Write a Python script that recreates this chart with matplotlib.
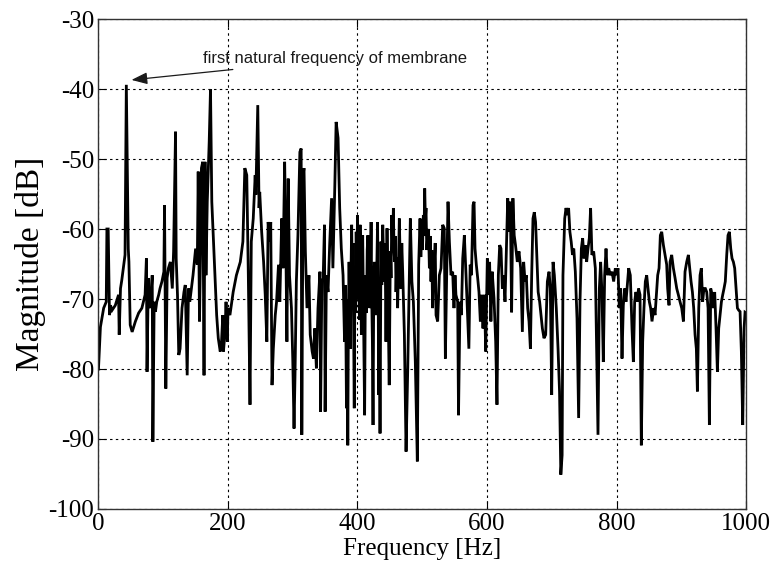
import matplotlib
matplotlib.use("Agg")
import matplotlib.pyplot as plt

# Frequency axis [Hz] and magnitude spectrum [dB]
freq_hz = [
    0, 3, 8, 12, 13, 15, 17, 18.5, 21, 26, 31, 32, 34, 36, 39, 41, 43, 46, 47, 49,
    52, 57, 62, 67, 72, 74, 75, 77, 78, 80, 83, 84, 86, 88, 90, 93, 95, 98, 101, 102,
    104, 106, 108, 111, 114, 116, 119, 120, 122, 124, 126, 129, 132, 134, 137, 139,
    141, 146, 150, 152.6, 154, 156, 158, 159, 161, 163, 164.5, 166, 168, 171, 173, 175,
    177, 180, 182.5, 185, 188, 190, 192, 193, 195.4, 197, 199, 200, 203, 208, 213, 219,
    223, 226, 229, 231.4, 234, 236, 239, 242, 243, 246, 248, 249, 252, 255, 257.5, 260,
    262, 265, 266, 268, 270, 273, 275, 278, 280, 283,
    285, 287.5, 289, 291, 293, 295, 298, 300, 302, 303.5, 305.6, 308, 311, 313, 314,
    316, 317.4, 319.5, 322, 325, 327, 330, 332, 334, 336.5, 339, 342, 343, 345, 347,
    349, 350, 352, 354.5, 357, 360, 362, 365, 367, 370, 372.5, 375, 377.7,
    380, 381, 382, 383, 384, 385, 386, 387, 388, 389, 390, 391, 392, 393, 394, 395,
    396, 397, 398, 399, 400, 401, 402, 403, 404, 405, 406, 407, 408, 409, 410, 411,
    412, 413, 414, 415, 416, 417, 418, 419, 420, 421, 422, 423, 424, 425, 426, 427,
    428.6, 430, 431, 432, 432.7, 433.8, 434.8, 436.3, 437.5, 439, 440.2, 441.5, 442.6,
    444, 445.6, 446.6, 447.6, 449, 450.7, 451.8, 453, 454.2, 455.4, 456.4, 457.4, 458.4,
    459.5, 460.7, 462, 463.3, 464.6, 465.8, 467, 468.4, 469.8,
    472.4, 475, 477.5, 480, 481.6, 484, 486.3, 489.3, 492.4, 494.5, 496.6, 497.8, 499,
    500.3, 501.7, 502.7, 503.8, 504.8, 505.8, 507, 508.4, 509.7, 511, 512.3, 513.5,
    514.7, 516, 517.3, 518.7, 520, 521.3, 523.8, 526.4, 529, 531.6, 534, 535.7, 537.7,
    539.8, 541.9, 544.4, 547, 549, 550.6, 552, 554.7, 556, 558.3, 560.4, 562.5, 565,
    567.6,
    572, 574, 576, 578.4, 580, 581.5, 583.5, 585.6, 587.6, 589.7, 591.8, 593.8, 596, 598,
    600.5, 602, 604, 606, 608, 610.8, 613.4, 615.4, 617.5, 619.6, 621.6, 623.7, 625.7,
    627.8, 629.9, 632, 634, 636, 638, 640, 642, 644, 646.8, 649.4, 652, 654.6, 656.6,
    658.7, 660.7, 662.8, 664.9, 667, 669, 671, 673, 675, 677, 679, 681.3, 683.4, 685.5,
    688, 690.6, 693.2, 695.8, 697.8, 699.9, 702, 704, 707, 709.7, 712, 714,
    716, 717.3, 720, 722, 724, 726, 728, 730, 732, 734, 736.4, 739, 741.5, 743.6, 745.7,
    747.7, 749.8, 751.8, 753.9, 756, 758, 760, 762, 764.7, 767.3, 769.3, 771.4, 773.5,
    775.5, 777.6, 779.6, 781.7, 783.8, 785.8, 787.9, 790.5, 793, 795.6, 798.2, 800.2,
    802.3, 804.3, 806.4, 808.5, 810.5, 812.6, 814.6, 816.7, 818.8, 821.3, 823.9, 826,
    828, 830, 832, 834, 836.3, 838.3, 840.4, 842.4, 844.5, 846.6, 848.6, 850.7, 852.7,
    854.8, 857.4,
    859.5, 861.6, 863.6, 865.7, 867.7, 869.8, 872.4, 875, 877.5, 879, 881.1, 882.7,
    885.2, 887.8, 890.4, 893, 895.5, 898.1, 900.7, 903.3, 905.8, 908.4, 911, 913, 915.1,
    917.2, 919.2, 921.3, 923.3, 924.9, 927, 929, 931, 933, 935, 937.2, 939.3, 941.4,
    943.4, 945.5, 947.5, 949.6, 951.6, 953.7, 955.8, 957.8, 959.9, 962, 964, 966, 968,
    970.2, 972.2, 974.3, 976.4, 978.4, 980.5, 982.5, 984.6, 986.7, 988.7, 990.8, 992.8,
    994.9, 997, 998.5, 1000,
]

magnitude_db = [
    -80, -74, -71.3, -70.4, -60, -60, -72.3, -70.9, -71.6, -70.9, -69.4, -75.1, -68.5,
    -67.3, -65.1, -63.7, -39.4, -62.8, -64.7, -73.7, -74.7, -73.2, -72, -71.3, -69.4,
    -64.2, -80.4, -67, -70.4, -71.3, -66.6, -90.4, -70.4, -71.8, -70.4, -69.4, -68.5,
    -67.5, -66.1, -56.6, -82.8, -67, -65.6, -64.7, -68.5, -63.2, -46.1, -64.2, -69.4,
    -78, -77.1, -71.3, -69, -68, -80.9, -68.5,
    -70.4, -66.6, -62.8, -65.1, -51.8, -73.2, -60.9, -51.3, -50.4, -80.9, -50.4, -66.6,
    -56.1, -47.5, -40, -56.1, -60.4, -66.6, -72.3, -75.6, -77.5, -76.1, -72.3, -77.5,
    -74.7, -70.4, -76.1, -71.3, -72.3, -69, -66.6, -64.7, -61.8, -51.3, -52.3, -66.6,
    -85.1, -61.8, -58.5, -52.3, -55.1, -42.3, -57, -54.7, -60.4, -64.7, -69.4, -76.1,
    -59, -61.8, -59, -82.3, -77.1, -72.3, -70.4, -65.1, -70.4, -58.5,
    -65.6, -50.4, -59.5, -76.1, -52.8, -66.6, -71.3, -78.5, -88.5, -80.9, -67.5, -60.9,
    -49, -48.5, -89.4, -52.3, -51.3, -63.2, -71.3, -66.6, -75.1, -77.5, -78.5, -74.2,
    -79.9, -71.3, -66.1, -86.1, -67.5, -67, -59.4, -86.1, -66.6, -69, -62.3, -55.6,
    -65.6, -53.7, -44.7, -47, -57, -62.8, -66.6,
    -76.1, -68, -74, -85.6, -70, -90.9, -72, -64.7, -70.5, -77.1, -66, -59.4, -68, -62,
    -73.7, -85.6, -66, -72, -60.4, -67, -58, -70, -66.6, -73, -59.4, -68, -75.1, -65,
    -60.9, -70, -78, -86.6, -70, -66.6, -72, -63, -60.9, -68, -64, -71.3, -66, -59, -70,
    -76, -88, -70, -64.7, -69,
    -72.3, -64, -59, -70, -83.7, -72, -89.2, -61.8, -68, -59.4, -64, -67.5, -62, -76.1,
    -59.9, -66, -72.8, -82.3, -63.2, -67, -58, -63, -57, -63, -64.7, -61, -69, -64,
    -71.3, -65, -58.5, -64, -68.5, -62, -66.1,
    -75.1, -91.8, -80.4, -67.5, -58.5, -67.5, -70.4, -79, -93.2, -65.1, -58.5, -64,
    -60.4, -63, -58, -61, -54.2, -58.5, -57, -63, -60.9, -60, -65.6, -61, -67.5, -63,
    -71.3, -66, -64.7, -62, -72.3, -73.2, -66.6, -65.6, -59.4, -59.9, -78.5, -66.6,
    -56.1, -61.8, -66.6, -66.1, -71.3, -66.6, -69.4, -70.4, -86.6, -70.4, -72.3, -64.2,
    -60.9, -66.6,
    -77.1, -65.1, -66.6, -56.6, -56.1, -62.8, -65.1, -67, -69, -73.2, -69.4, -74.2,
    -69.4, -77.5, -64.2, -69.4, -64.7, -73.2, -66.1, -69.9, -76.1, -85.1, -66.6, -62.3,
    -62.8, -68.5, -66.6, -70.4, -63.2, -55.6, -60.4, -56.1, -71.9, -55.6, -60.9, -62.3,
    -64.7, -63.2, -65.6, -74.7, -64.7, -67.5, -66.6, -71.3, -73.2, -77.1, -66.6, -58.5,
    -57.6, -59, -64.2, -69, -70.4, -72.3, -74.2, -75.6, -75.1, -67.5, -66.1, -68.5,
    -83.7, -64.7, -66.6, -71.3, -77.1, -83.2, -95.1,
    -92.3, -66.6, -58.5, -57, -58, -57, -60.4, -61.8, -63.7, -62.8, -66.1, -72.8, -87,
    -70.4, -62.8, -61.3, -64.2, -62.3, -64.7, -62.8, -61.3, -57, -63.7, -63.2, -65.6,
    -77.1, -89.4, -68.5, -64.7, -69.4, -79, -66.6, -62.8, -66.6, -65.6, -66.6, -66.1,
    -67.5, -65.6, -66.6, -65.6, -71.3, -68.5, -78.5, -70.9, -68.5, -70.4, -68, -65.6,
    -66.6, -74.2, -79, -70.4, -69, -70.4, -68.5, -69.4, -90.9, -76.1, -71.3, -67.5,
    -66.6, -68.5, -70.4, -71.3, -73.2, -71.3,
    -72.3, -69.4, -66.6, -65.6, -60.9, -60.4, -62.3, -63.7, -65.1, -68.5, -70.9, -64.7,
    -63.7, -65.6, -67, -68.5, -69.4, -70.4, -71.3, -73.2, -66.1, -64.7, -63.7, -65.6,
    -67.5, -69, -71.3, -75.1, -77.1, -83.2, -71.3, -66.6, -65.6, -70.4, -68.5, -68.5,
    -69, -71.3, -88, -68.5, -69.4, -71.3, -69, -74.2, -80.4, -74.2, -72.3, -70.4, -69.4,
    -68.5, -67.5, -63.7, -60.9, -60.4, -62.8, -64.2, -64.7, -65.6, -68.5, -71.3, -71.6,
    -71.8, -77.5, -88, -74.2, -71.9, -72,
]

x_ticks = [0, 200, 400, 600, 800, 1000]
y_ticks = [-100, -90, -80, -70, -60, -50, -40, -30]

plt.rcParams["axes.unicode_minus"] = False

fig = plt.figure(figsize=(7.73, 5.73), dpi=100)
ax = fig.add_axes([0.1274, 0.1117, 0.8377, 0.8551])

ax.plot(freq_hz, magnitude_db, color="black", linewidth=2.0, solid_joinstyle="miter")

ax.set_xlim(0, 1000)
ax.set_ylim(-100, -30)
ax.set_xticks(x_ticks)
ax.set_yticks(y_ticks)

ax.grid(True, color="black", linestyle=(0, (2.2, 3.0)), linewidth=0.8)
ax.tick_params(direction="in", top=True, right=True, length=6, width=0.8,
               labelsize=18, pad=3)
for lbl in ax.get_xticklabels() + ax.get_yticklabels():
    lbl.set_fontfamily("Liberation Serif")
for sp in ax.spines.values():
    sp.set_color("#333333")
    sp.set_linewidth(1.0)

ax.set_xlabel("Frequency [Hz]", fontfamily="Liberation Serif", fontsize=18, labelpad=2)
ax.set_ylabel("Magnitude [dB]", fontfamily="Liberation Serif", fontsize=24, labelpad=2)

ax.annotate("first natural frequency of membrane",
            xy=(51, -38.7), xytext=(162, -35.7),
            fontsize=12, fontfamily="Liberation Sans", color="#1a1a1a",
            ha="left", va="center",
            arrowprops=dict(arrowstyle="-|>,head_length=0.8,head_width=0.3",
                            color="#1a1a1a", lw=0.9, shrinkA=2, shrinkB=0))

fig.savefig("out.png", dpi=100)
